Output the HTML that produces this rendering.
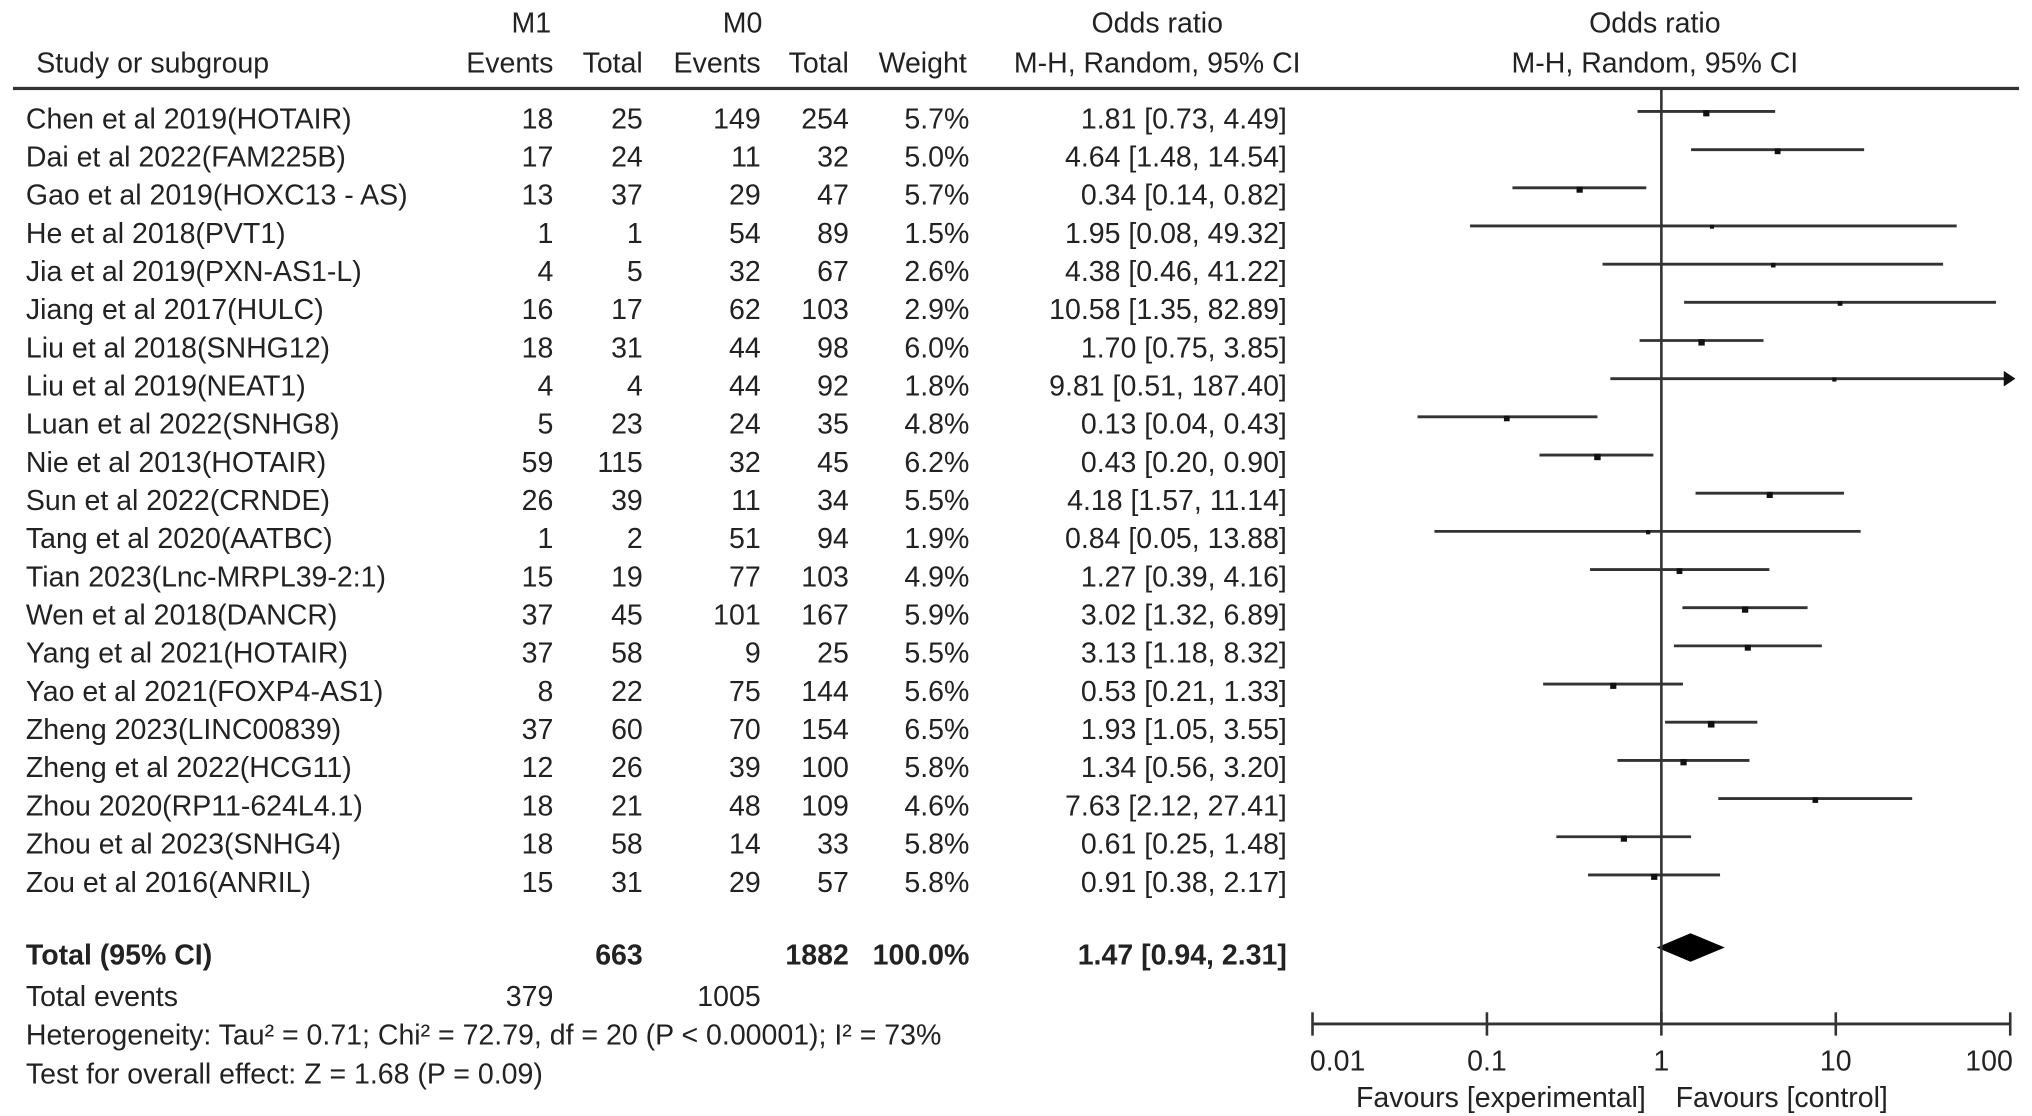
<!DOCTYPE html>
<html><head><meta charset="utf-8"><style>
html,body{margin:0;padding:0;background:#fff;}
svg{display:block;}
text{font-family:"Liberation Sans",sans-serif;font-size:22px;fill:#222;}
</style></head><body>
<svg id="chart" width="2032" height="1116" viewBox="0 0 1568 861" preserveAspectRatio="none" xmlns="http://www.w3.org/2000/svg">
<g id="hdr">
<text x="410" y="25" text-anchor="middle">M1</text>
<text x="573" y="25" text-anchor="middle">M0</text>
<text x="893" y="25" text-anchor="middle">Odds ratio</text>
<text x="1277" y="25" text-anchor="middle">Odds ratio</text>
<text x="28" y="56">Study or subgroup</text>
<text x="427" y="56" text-anchor="end">Events</text>
<text x="496" y="56" text-anchor="end">Total</text>
<text x="587" y="56" text-anchor="end">Events</text>
<text x="655" y="56" text-anchor="end">Total</text>
<text x="746" y="56" text-anchor="end">Weight</text>
<text x="893" y="56" text-anchor="middle">M-H, Random, 95% CI</text>
<text x="1277" y="56" text-anchor="middle">M-H, Random, 95% CI</text>
<rect x="10" y="67" width="1548" height="2.5" fill="#333"/>
</g>
<g id="rows"></g>
<g id="plot"></g>
</svg>
<script>
const studies=["Chen et al 2019(HOTAIR)","Dai et al 2022(FAM225B)","Gao et al 2019(HOXC13 - AS)","He et al 2018(PVT1)","Jia et al 2019(PXN-AS1-L)","Jiang et al 2017(HULC)","Liu et al 2018(SNHG12)","Liu et al 2019(NEAT1)","Luan et al 2022(SNHG8)","Nie et al 2013(HOTAIR)","Sun et al 2022(CRNDE)","Tang et al 2020(AATBC)","Tian 2023(Lnc-MRPL39-2:1)","Wen et al 2018(DANCR)","Yang et al 2021(HOTAIR)","Yao et al 2021(FOXP4-AS1)","Zheng 2023(LINC00839)","Zheng et al 2022(HCG11)","Zhou 2020(RP11-624L4.1)","Zhou et al 2023(SNHG4)","Zou et al 2016(ANRIL)"];
const ev1=[18,17,13,1,4,16,18,4,5,59,26,1,15,37,37,8,37,12,18,18,15];
const tot1=[25,24,37,1,5,17,31,4,23,115,39,2,19,45,58,22,60,26,21,58,31];
const ev0=[149,11,29,54,32,62,44,44,24,32,11,51,77,101,9,75,70,39,48,14,29];
const tot0=[254,32,47,89,67,103,98,92,35,45,34,94,103,167,25,144,154,100,109,33,57];
const weight=[5.7,5.0,5.7,1.5,2.6,2.9,6.0,1.8,4.8,6.2,5.5,1.9,4.9,5.9,5.5,5.6,6.5,5.8,4.6,5.8,5.8];
const orv=[1.81,4.64,0.34,1.95,4.38,10.58,1.70,9.81,0.13,0.43,4.18,0.84,1.27,3.02,3.13,0.53,1.93,1.34,7.63,0.61,0.91];
const lo=[0.73,1.48,0.14,0.08,0.46,1.35,0.75,0.51,0.04,0.20,1.57,0.05,0.39,1.32,1.18,0.21,1.05,0.56,2.12,0.25,0.38];
const hi=[4.49,14.54,0.82,49.32,41.22,82.89,3.85,187.40,0.43,0.90,11.14,13.88,4.16,6.89,8.32,1.33,3.55,3.20,27.41,1.48,2.17];
const pooled=[1.47,0.94,2.31];
const ticks=[0.01,0.1,1,10,100];
const tickLabels=["0.01","0.1","1","10","100"];
const NS="http://www.w3.org/2000/svg";
const xs=v=>1282+134.6*Math.log10(v);
const ys=i=>91+i*29.45;
function mk(tag,attrs,parent,txt){const e=document.createElementNS(NS,tag);for(const k in attrs)e.setAttribute(k,attrs[k]);if(txt!==undefined)e.textContent=txt;parent.appendChild(e);return e;}
const rows=document.getElementById('rows'),plot=document.getElementById('plot');
const f2=v=>v.toFixed(2);
studies.forEach((s,i)=>{const y=ys(i)+8;
 let t=mk('text',{x:20,y:y},rows,s);
 const cols=[[427,ev1[i]],[496,tot1[i]],[587,ev0[i]],[655,tot0[i]],[748,weight[i].toFixed(1)+'%'],[993,f2(orv[i])+' ['+f2(lo[i])+', '+f2(hi[i])+']']];
 cols.forEach(c=>{let e=mk('text',{x:c[0],y:y,'text-anchor':'end'},rows,String(c[1]));});
 const ly=ys(i)-5;const x1=xs(Math.max(lo[i],0.01)),x2=xs(Math.min(hi[i],100));
 let l=mk('line',{x1:x1,x2:x2,y1:ly,y2:ly,stroke:'#333','stroke-width':2.2},plot);
 if(hi[i]>100){let a=mk('polygon',{points:(x2+4)+','+ly+' '+(x2-5)+','+(ly-6)+' '+(x2-5)+','+(ly+6),fill:'#111'},plot);}
 const sz=2.5+weight[i]*0.4;
 let r=mk('rect',{x:xs(orv[i])-sz/2,y:ly-1,width:sz,height:sz,fill:'#111'},plot);
});
const ty=744;
[[20,'Total (95% CI)','start'],[496,'663','end'],[655,'1882','end'],[748,'100.0%','end'],[993,f2(pooled[0])+' ['+f2(pooled[1])+', '+f2(pooled[2])+']','end']].forEach(c=>{let e=mk('text',{x:c[0],y:ty,'text-anchor':c[2],'font-weight':'bold'},rows,c[1]);});
[[20,776,'Total events','start'],[427,776,'379','end'],[587,776,'1005','end'],[20,806,'Heterogeneity: Tau² = 0.71; Chi² = 72.79, df = 20 (P < 0.00001); I² = 73%','start'],[20,836,'Test for overall effect: Z = 1.68 (P = 0.09)','start']].forEach(c=>{let e=mk('text',{x:c[0],y:c[1],'text-anchor':c[3]},rows,c[2]);});
const dy=731;
let d=mk('polygon',{points:xs(pooled[1])+','+dy+' '+xs(pooled[0])+','+(dy-11)+' '+xs(pooled[2])+','+dy+' '+xs(pooled[0])+','+(dy+11),fill:'#000'},plot);


let vl=mk('line',{x1:xs(1),x2:xs(1),y1:69,y2:790,stroke:'#333','stroke-width':2},plot);


let ax=mk('line',{x1:xs(0.01),x2:xs(100),y1:790,y2:790,stroke:'#333','stroke-width':2.2},plot);


ticks.forEach((t,i)=>{let tk=mk('line',{x1:xs(t),x2:xs(t),y1:781,y2:799,stroke:'#333','stroke-width':2},plot);
 const anchor=i===0?'start':(i===4?'end':'middle');const xx=i===0?xs(t)-2:(i===4?xs(t)+2:xs(t));
 let tl=mk('text',{x:xx,y:826,'text-anchor':anchor},plot,tickLabels[i]);});
let fe=mk('text',{x:1270,y:854,'text-anchor':'end'},plot,'Favours [experimental]');


let fc=mk('text',{x:1293,y:854},plot,'Favours [control]');


</script>
</body></html>
